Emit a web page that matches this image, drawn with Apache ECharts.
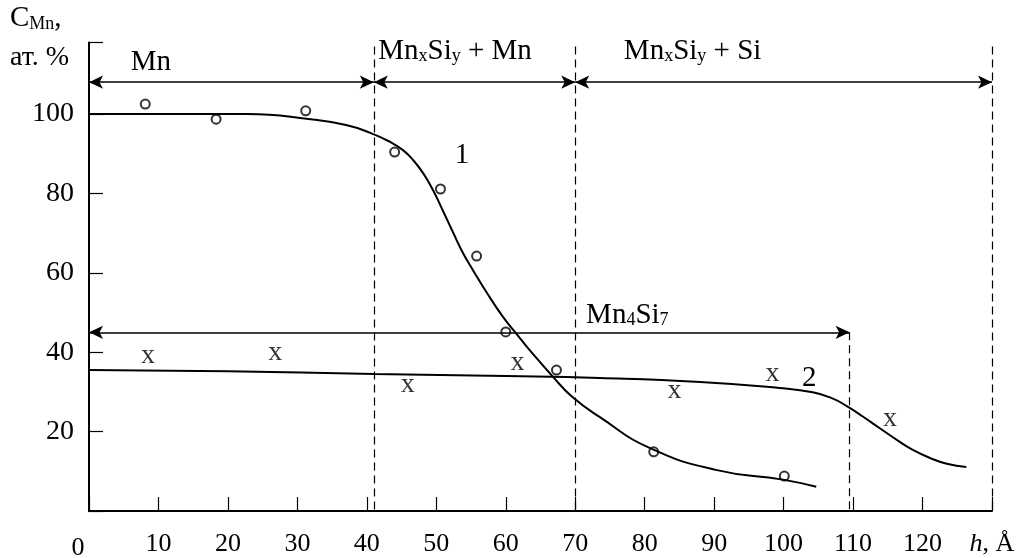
<!DOCTYPE html>
<html>
<head>
<meta charset="utf-8">
<script src="https://cdn.jsdelivr.net/npm/echarts@6/dist/echarts.min.js"></script>
<style>html,body{margin:0;padding:0;background:#fff}#c{width:1031px;height:558px}</style>
</head>
<body>
<div id="c"></div>
<script>
// ---- data ----
var xTicks = [0,10,20,30,40,50,60,70,80,90,100,110,120,130];
var yTicks = [20,40,60,80,100];
// curve 1 (fitted line through circles)
var curve1 = [[0,100],[22.7,100],[32.2,98.6],[37,97.2],[40.4,95.3],[43.3,93.0],[45.2,90.9],[46.6,88.5],[48.1,85.1],[49.5,80.9],[50.9,75.8],[52.4,70.2],[53.8,65.1],[55.3,60.6],[57.3,54.9],[59.6,48.9],[61.6,44.5],[63.5,40.4],[66.8,33.8],[69.6,28.7],[73.5,23.7],[80.7,15.9],[90.4,10.3],[99.9,7.9],[104.7,6.1]];
// measured points, curve 1 ("o")
var points1 = [[8.1,102.5],[18.3,98.7],[31.2,100.8],[44.0,90.4],[50.6,81.1],[55.8,64.2],[60.0,45.1],[67.3,35.5],[81.3,14.9],[100.1,8.8]];
// curve 2
var curve2 = [[0,35.5],[20,35.2],[41,34.5],[60,34.0],[73.5,33.5],[88,32.5],[99.4,31.0],[104.2,29.9],[107.1,28.3],[109.1,26.4],[111.4,23.8],[113.8,20.9],[116.3,17.9],[118.6,15.4],[121,13.4],[123.5,11.9],[126.3,11.1]];
// measured points, curve 2 ("x")
var points2 = [[8.5,38.0],[26.8,38.8],[45.9,30.7],[61.7,36.3],[84.3,29.2],[98.4,33.5],[115.3,22.2]];
// phase region boundaries (h, Å)
var bounds = [0,41,70,130];
var mn4si7End = 109.5;
var arrowLevel = 108, mn4si7Level = 45;

var F = 'Liberation Serif, Times New Roman, serif';
var rich = {
  b: {fontSize: 29, fontFamily: F, color: '#000', lineHeight: 30, verticalAlign: 'bottom'},
  s: {fontSize: 18, fontFamily: F, color: '#000', lineHeight: 10, verticalAlign: 'bottom'}
};

var chart = echarts.init(document.getElementById('c'));
var dashed = {type: [8,5], width: 1.2, color: '#000'};
var arrowStyle = {type: 'solid', width: 1.5, color: '#000'};
var mlData = [];
for (var i = 0; i < bounds.length - 1; i++) {
  mlData.push([{coord:[bounds[i], arrowLevel], symbol:'arrow', lineStyle: arrowStyle}, {coord:[bounds[i+1], arrowLevel], symbol:'arrow'}]);
}
mlData.push([{coord:[0, mn4si7Level], symbol:'arrow', lineStyle: arrowStyle}, {coord:[mn4si7End, mn4si7Level], symbol:'arrow'}]);
[41,70,130].forEach(function(b){
  mlData.push([{coord:[b,117], symbol:'none', lineStyle: dashed},{coord:[b,0], symbol:'none'}]);
});
mlData.push([{coord:[mn4si7End, mn4si7Level], symbol:'none', lineStyle: dashed},{coord:[mn4si7End,0], symbol:'none'}]);

function txt(x, y, s) {
  return {coord:[x,y], value: s, label:{formatter: s}};
}

chart.setOption({
  animation: false,
  backgroundColor: '#fff',
  grid: {left: 89, right: 39, top: 42.5, bottom: 47, containLabel: false, outerBoundsMode: 'none'},
  xAxis: {
    type: 'value', min: 0, max: 130, interval: 10,
    axisLine: {lineStyle: {color:'#000', width: 2}},
    axisTick: {inside: true, length: 14, lineStyle: {color:'#000', width: 1.2}},
    splitLine: {show: false},
    axisLabel: {
      margin: 20, color: '#000', fontFamily: F, fontSize: 26,
      formatter: function(v){
        if (v === 130) return '{i|h}, Å';
        if (v === 0) return '{z|0}';
        return xTicks.indexOf(v) >= 0 ? String(v) : '';
      },
      rich: {i: {fontStyle: 'italic', fontFamily: F, fontSize: 26, color:'#000'}, z: {fontFamily: F, fontSize: 26, color:'#000', padding:[4,22,0,0]}}
    }
  },
  yAxis: {
    type: 'value', min: 0, max: 118, interval: 20,
    axisLine: {show: true, lineStyle: {color:'#000', width: 2}},
    axisTick: {show: true, inside: true, length: 14, lineStyle: {color:'#000', width: 1.2}},
    splitLine: {show: false},
    axisLabel: {
      margin: 15, color: '#000', fontFamily: F, fontSize: 28,
      formatter: function(v){ return yTicks.indexOf(v) >= 0 ? String(v) : ''; }
    }
  },
  graphic: [
    {type:'text', left: 10, top: 4, style:{text:'{b|C}{s|Mn}{b|,}', rich: rich}},
    {type:'text', left: 10, top: 44, style:{text:'ат. %', font: '28px ' + F, fill:'#000'}}
  ],
  series: [
    {
      type: 'line', data: curve1, smooth: 0.5, showSymbol: false,
      lineStyle: {color:'#000', width: 2}, silent: true,
      markLine: {silent: true, animation: false, symbolSize: [10,14], label:{show:false}, data: mlData},
      markPoint: {
        silent: true, symbol: 'circle', symbolSize: 1, itemStyle:{color:'rgba(0,0,0,0)'},
        label: {show: true, position: 'inside', rich: rich, color:'#000'},
        data: [
          txt(8.9, 113, '{b|Mn}'),
          txt(52.7, 116, '{b|Mn}{s|x}{b|Si}{s|y}{b| + Mn}'),
          txt(86.9, 116, '{b|Mn}{s|x}{b|Si}{s|y}{b| + Si}'),
          txt(77.5, 49.5, '{b|Mn}{s|4}{b|Si}{s|7}'),
          txt(53.7, 89.7, '{b|1}'),
          txt(103.7, 33.5, '{b|2}')
        ]
      }
    },
    {
      type: 'line', data: curve2, smooth: 0.5, showSymbol: false,
      lineStyle: {color:'#000', width: 2}, silent: true
    },
    {
      type: 'scatter', data: points1, symbol: 'emptyCircle', symbolSize: 9,
      itemStyle: {color:'#000', borderColor:'#000', borderWidth: 2}, silent: true
    },
    {
      type: 'scatter', data: points2, symbol: 'circle', symbolSize: 1,
      itemStyle: {color:'rgba(0,0,0,0)'}, silent: true,
      label: {show: true, position: 'inside', formatter: 'x', fontFamily: F, fontSize: 28, color:'#000', offset:[0,-4]}
    }
  ]
});
</script>
</body>
</html>
